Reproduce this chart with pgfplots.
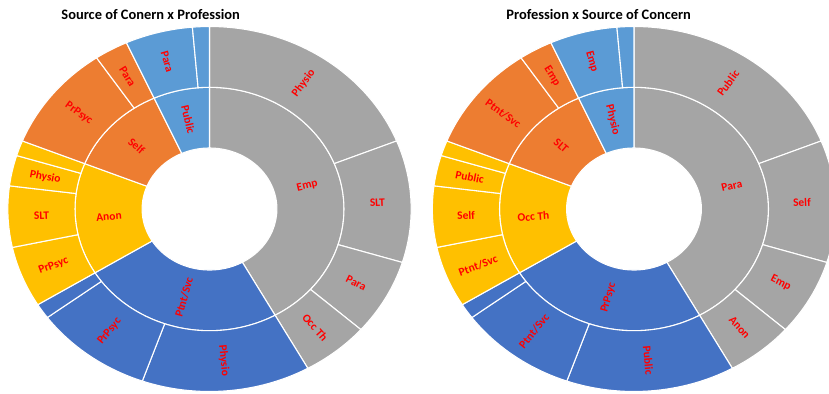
\documentclass[border=0pt]{standalone}
\usepackage{pgfplots}
\usepackage{pgfplotstable}
\pgfplotsset{compat=1.18}
\usepackage{fontspec}
\setmainfont{Carlito}

% Office theme accents
\definecolor{accGray}{HTML}{A5A5A5}
\definecolor{accBlue}{HTML}{4472C4}
\definecolor{accGold}{HTML}{FFC000}
\definecolor{accOrange}{HTML}{ED7D31}
\definecolor{accSky}{HTML}{5B9BD5}
\definecolor{labelred}{HTML}{FF0000}

\newcommand{\labelfont}{\fontsize{11.5}{13}\selectfont\bfseries}
\newcommand{\titlefont}{\fontsize{14.5}{17}\selectfont\bfseries}

% ---- Source of concern x Profession ----
\pgfplotstableread[col sep=comma]{
count,label,colour
31,Emp,accGray
18,Ptnt/Svc,accBlue
11,Anon,accGold
9,Self,accOrange
5,Public,accSky
}\srcInner
\pgfplotstableread[col sep=comma]{
count,label,colour
14,Physio,accGray
8,SLT,accGray
5,Para,accGray
4,Occ Th,accGray
10,Physio,accBlue
7,PrPsyc,accBlue
1,,accBlue
4,PrPsyc,accGold
4,SLT,accGold
2,Physio,accGold
1,,accGold
7,PrPsyc,accOrange
2,Para,accOrange
4,Para,accSky
1,,accSky
}\srcOuter

% ---- Profession x Source of concern ----
\pgfplotstableread[col sep=comma]{
count,label,colour
31,Para,accGray
18,PrPsyc,accBlue
11,Occ Th,accGold
9,SLT,accOrange
5,Physio,accSky
}\profInner
\pgfplotstableread[col sep=comma]{
count,label,colour
14,Public,accGray
8,Self,accGray
5,Emp,accGray
4,Anon,accGray
10,Public,accBlue
7,Ptnt/Svc,accBlue
1,,accBlue
4,Ptnt/Svc,accGold
4,Self,accGold
2,Public,accGold
1,,accGold
7,Ptnt/Svc,accOrange
2,Emp,accOrange
4,Emp,accSky
1,,accSky
}\profOuter

% One ring of a sunburst, clockwise from 12 o'clock.
% #1 table, #2 inner radius, #3 outer radius, #4 centre x, #5 centre y, #6 horizontal stretch
\newcommand{\sunring}[6]{%
  \pgfplotstablegetrowsof{#1}%
  \pgfmathtruncatemacro\lastrow{\pgfplotsretval-1}%
  \gdef\ringtotal{0}%
  \foreach \i in {0,...,\lastrow}{%
    \pgfplotstablegetelem{\i}{count}\of{#1}%
    \pgfmathsetmacro\tmp{\ringtotal+\pgfplotsretval}%
    \xdef\ringtotal{\tmp}}%
  \pgfmathsetmacro\degper{360/\ringtotal}%
  \global\let\degper\degper
  \gdef\ringpos{0}%
  \foreach \i in {0,...,\lastrow}{%
    \pgfplotstablegetelem{\i}{count}\of{#1}\let\n\pgfplotsretval
    \pgfplotstablegetelem{\i}{label}\of{#1}\let\lab\pgfplotsretval
    \pgfplotstablegetelem{\i}{colour}\of{#1}\let\col\pgfplotsretval
    \pgfmathsetmacro\aS{90-\degper*\ringpos}%
    \pgfmathsetmacro\aE{90-\degper*(\ringpos+\n)}%
    \pgfmathsetmacro\aM{(\aS+\aE)/2}%
    \pgfmathsetmacro\rxi{#6*#2}%
    \pgfmathsetmacro\rxo{#6*#3}%
    \fill[fill=\col, draw=white, line width=1.1bp, line join=round]
      ({#4+\rxi*cos(\aS)},{#5+#2*sin(\aS)})
      -- ({#4+\rxo*cos(\aS)},{#5+#3*sin(\aS)})
      arc[start angle=\aS, end angle=\aE, x radius=\rxo bp, y radius=#3 bp]
      -- ({#4+\rxi*cos(\aE)},{#5+#2*sin(\aE)})
      arc[start angle=\aE, end angle=\aS, x radius=\rxi bp, y radius=#2 bp]
      -- cycle;
    \pgfmathsetmacro\rot{atan2(sin(\aM),#6*cos(\aM))}%
    \pgfmathsetmacro\rot{\rot>90 ? \rot-180 : (\rot<-90 ? \rot+180 : \rot)}%
    \pgfmathsetmacro\rmid{(#2+#3)/2}%
    \node[rotate=\rot, text=labelred, font=\labelfont, inner sep=0pt]
      at ({#4+#6*\rmid*cos(\aM)},{#5+\rmid*sin(\aM)}) {\lab};
    \pgfmathsetmacro\tmp{\ringpos+\n}%
    \xdef\ringpos{\tmp}%
  }}

\begin{document}
\begin{tikzpicture}
\begin{axis}[
  x=1bp, y=1bp,
  xmin=0, xmax=829, ymin=0, ymax=393,
  scale only axis, hide axis, clip=true,
  ticks=none,
]
\pgfplotsextra{%
  \sunring{\srcInner}{61}{121.7}{209.5}{184}{1.105}%
  \sunring{\srcOuter}{121.7}{182.5}{209.5}{184}{1.105}%
  \sunring{\profInner}{61}{121.7}{634}{184}{1.105}%
  \sunring{\profOuter}{121.7}{182.5}{634}{184}{1.105}%
  \node[font=\titlefont, anchor=base] at (150.7,374) {Source of Conern x Profession};
  \node[font=\titlefont, anchor=base] at (598.7,374) {Profession x Source of Concern};
}
\coordinate (frameSW) at (rel axis cs:0,0);
\coordinate (frameNE) at (rel axis cs:1,1);
\end{axis}
% the page is the plot frame itself (arc control points would otherwise widen it)
\pgfresetboundingbox
\useasboundingbox (frameSW) rectangle (frameNE);
\end{tikzpicture}
\end{document}
